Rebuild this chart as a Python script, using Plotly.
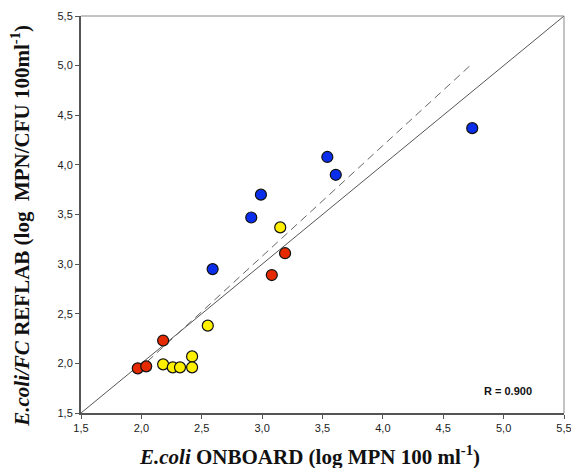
import plotly.graph_objects as go

# Data
blue_x = [2.59, 2.91, 2.99, 3.54, 3.61, 4.74]
blue_y = [2.95, 3.47, 3.70, 4.08, 3.90, 4.37]

yellow_x = [3.15, 2.55, 2.42, 2.18, 2.26, 2.32, 2.42]
yellow_y = [3.37, 2.38, 2.07, 1.99, 1.96, 1.96, 1.96]

red_x = [3.19, 3.08, 2.18, 1.97, 2.04]
red_y = [3.11, 2.89, 2.23, 1.95, 1.97]

identity_x = [1.5, 5.5]
identity_y = [1.5, 5.5]

reg_x = [1.97, 4.74]
reg_y = [1.93, 5.02]

tick_vals = [1.5, 2.0, 2.5, 3.0, 3.5, 4.0, 4.5, 5.0, 5.5]
tick_text = ["1,5", "2,0", "2,5", "3,0", "3,5", "4,0", "4,5", "5,0", "5,5"]

r_label = "R = 0.900"
x_title = "<b><i>E.coli</i> ONBOARD (log MPN 100 ml<sup>-1</sup>)</b>"
y_title = "<b><i>E.coli/FC</i> REFLAB (log &nbsp;MPN/CFU 100ml<sup>-1</sup>)</b>"

fig = go.Figure()

fig.add_trace(go.Scatter(x=identity_x, y=identity_y, mode="lines",
                         line=dict(color="#555555", width=1), hoverinfo="skip"))
fig.add_trace(go.Scatter(x=reg_x, y=reg_y, mode="lines",
                         line=dict(color="#666666", width=1, dash="8px,5px"), hoverinfo="skip"))

marker_common = dict(size=11, line=dict(color="#111111", width=1.2))
fig.add_trace(go.Scatter(x=yellow_x, y=yellow_y, mode="markers",
                         marker=dict(color="#FFF000", **marker_common)))
fig.add_trace(go.Scatter(x=red_x, y=red_y, mode="markers",
                         marker=dict(color="#E62A00", **marker_common)))
fig.add_trace(go.Scatter(x=blue_x, y=blue_y, mode="markers",
                         marker=dict(color="#0A2EEB", **marker_common)))

fig.add_annotation(x=5.04, y=1.72, xref="x", yref="y", text="<b>" + r_label + "</b>",
                   showarrow=False, font=dict(family="Liberation Sans, Arial", size=11, color="#111111"))

title_font = dict(family="Liberation Serif, Times New Roman", size=21, color="#111111")
fig.add_annotation(x=0.474, y=-0.106, xref="paper", yref="paper", text=x_title,
                   showarrow=False, xanchor="center", yanchor="middle", font=title_font)
fig.add_annotation(x=-0.124, y=0.472, xref="paper", yref="paper", text=y_title,
                   showarrow=False, xanchor="center", yanchor="middle", textangle=-90, font=title_font)

axis_common = dict(
    range=[1.5, 5.5], tickvals=tick_vals, ticktext=tick_text,
    showgrid=False, zeroline=False, showline=True, linecolor="#555555", linewidth=2,
    ticks="outside", ticklen=4, tickcolor="#555555", tickwidth=1,
    tickfont=dict(family="Liberation Sans, Arial", size=11, color="#222222"),
    mirror=False, automargin=False, ticklabeloverflow="allow",
)

fig.update_xaxes(**axis_common)
fig.update_yaxes(**axis_common)

# top and right frame lines (thin)
fig.add_shape(type="line", xref="paper", yref="paper", x0=0, x1=1, y0=1, y1=1,
              line=dict(color="#888888", width=1))
fig.add_shape(type="line", xref="paper", yref="paper", x0=1, x1=1, y0=0, y1=1,
              line=dict(color="#888888", width=1))

fig.update_layout(
    width=571, height=468,
    margin=dict(l=81, r=7, t=16, b=55),
    paper_bgcolor="white", plot_bgcolor="white",
    showlegend=False,
)

fig.write_html("out.html", config={"displayModeBar": False},
               post_script="document.body.style.margin='0';")
